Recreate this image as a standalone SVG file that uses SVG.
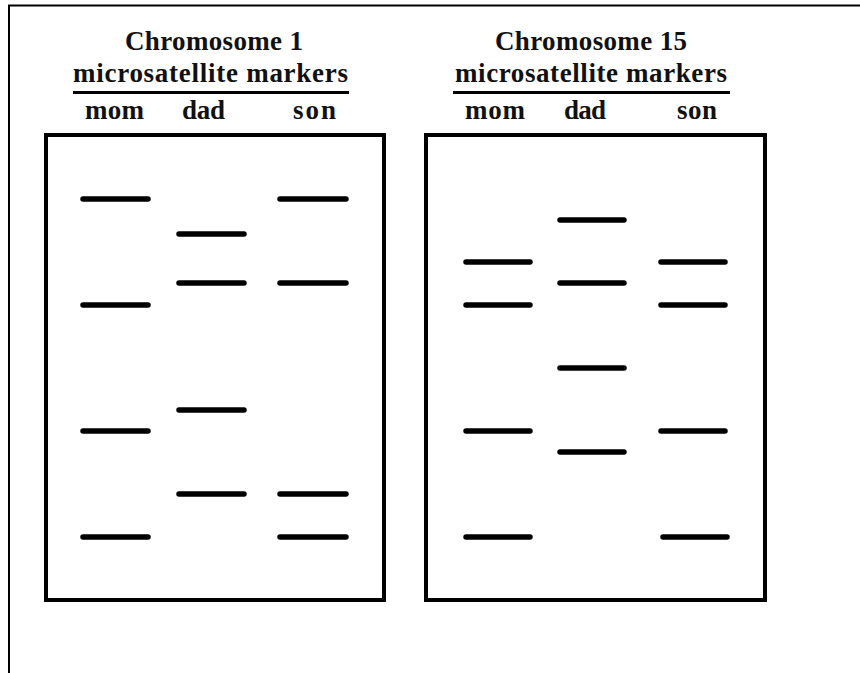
<svg xmlns="http://www.w3.org/2000/svg" width="860" height="673" viewBox="0 0 860 673">
  <style>
    .t { font-family: "Liberation Serif", "Times New Roman", serif; font-weight: bold; font-size: 27px; fill: #111; }
    .frame { fill: none; stroke: #000; stroke-width: 2; }
    .box { fill: #fff; stroke: #000; stroke-width: 4; }
    .rule { stroke: #000; stroke-width: 3; }
    .band { stroke: #000; stroke-width: 5.5; stroke-linecap: round; }
  </style>
  <rect width="860" height="673" fill="#fff"/>
  <path class="frame" d="M9,673 V5.5 H860"/>

  <g id="chr1">
    <text class="t" x="125" y="50" textLength="178" lengthAdjust="spacing">Chromosome 1</text>
    <text class="t" x="73" y="82" textLength="275" lengthAdjust="spacing">microsatellite markers</text>
    <line class="rule" x1="73" y1="92.5" x2="349" y2="92.5"/>
    <text class="t" x="85" y="119" textLength="59" lengthAdjust="spacing">mom</text>
    <text class="t" x="182" y="119" textLength="43" lengthAdjust="spacing">dad</text>
    <text class="t" x="293" y="119" textLength="43" lengthAdjust="spacing">son</text>
    <rect class="box" x="46" y="135" width="338" height="465"/>
    <g id="chr1-mom">
      <line class="band" x1="83" y1="199" x2="148" y2="199"/>
      <line class="band" x1="83" y1="305" x2="148" y2="305"/>
      <line class="band" x1="83" y1="431" x2="148" y2="431"/>
      <line class="band" x1="83" y1="537" x2="148" y2="537"/>
    </g>
    <g id="chr1-dad">
      <line class="band" x1="179" y1="234" x2="244" y2="234"/>
      <line class="band" x1="179" y1="283" x2="244" y2="283"/>
      <line class="band" x1="179" y1="410" x2="244" y2="410"/>
      <line class="band" x1="179" y1="494" x2="244" y2="494"/>
    </g>
    <g id="chr1-son">
      <line class="band" x1="280" y1="199" x2="346" y2="199"/>
      <line class="band" x1="280" y1="283" x2="346" y2="283"/>
      <line class="band" x1="280" y1="494" x2="346" y2="494"/>
      <line class="band" x1="280" y1="537" x2="346" y2="537"/>
    </g>
  </g>

  <g id="chr15">
    <text class="t" x="495" y="50" textLength="192" lengthAdjust="spacing">Chromosome 15</text>
    <text class="t" x="455" y="82" textLength="272" lengthAdjust="spacing">microsatellite markers</text>
    <line class="rule" x1="453" y1="92.5" x2="730" y2="92.5"/>
    <text class="t" x="465" y="119" textLength="60" lengthAdjust="spacing">mom</text>
    <text class="t" x="564" y="119" textLength="42" lengthAdjust="spacing">dad</text>
    <text class="t" x="677" y="119" textLength="40" lengthAdjust="spacing">son</text>
    <rect class="box" x="426" y="135" width="339" height="465"/>
    <g id="chr15-mom">
      <line class="band" x1="466" y1="262" x2="530" y2="262"/>
      <line class="band" x1="466" y1="305" x2="530" y2="305"/>
      <line class="band" x1="466" y1="431" x2="530" y2="431"/>
      <line class="band" x1="466" y1="537" x2="530" y2="537"/>
    </g>
    <g id="chr15-dad">
      <line class="band" x1="560" y1="220" x2="624" y2="220"/>
      <line class="band" x1="560" y1="283" x2="624" y2="283"/>
      <line class="band" x1="560" y1="368" x2="624" y2="368"/>
      <line class="band" x1="560" y1="452" x2="624" y2="452"/>
    </g>
    <g id="chr15-son">
      <line class="band" x1="661" y1="262" x2="725" y2="262"/>
      <line class="band" x1="661" y1="305" x2="725" y2="305"/>
      <line class="band" x1="661" y1="431" x2="725" y2="431"/>
      <line class="band" x1="663" y1="537" x2="727" y2="537"/>
    </g>
  </g>

  <g id="connectors"/>
</svg>
